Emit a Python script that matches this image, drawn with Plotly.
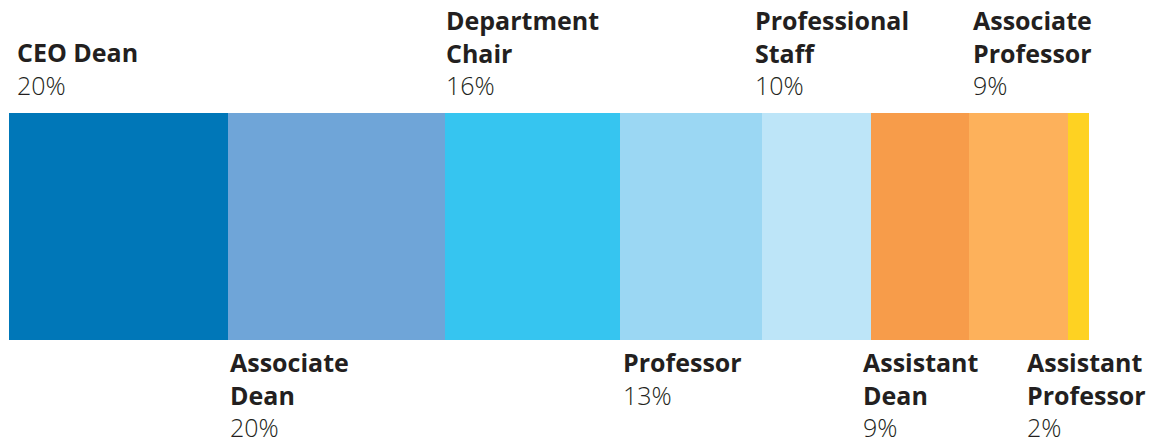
import plotly.graph_objects as go

categories = ["CEO Dean", "Associate Dean", "Department Chair", "Professor",
              "Professional Staff", "Assistant Dean", "Associate Professor", "Assistant Professor"]
label_names = ["CEO Dean", "Associate<br>Dean", "Department<br>Chair", "Professor",
               "Professional<br>Staff", "Assistant<br>Dean", "Associate<br>Professor", "Assistant<br>Professor"]
values = [20.3, 20.1, 16.2, 13.1, 10.1, 9.1, 9.2, 1.9]
pct_labels = ["20%", "20%", "16%", "13%", "10%", "9%", "9%", "2%"]
colors = ["#0077B8", "#6FA5D8", "#36C5F0", "#9BD7F3", "#BDE5F8", "#F79C4A", "#FDB15B", "#FED222"]

# label placement (layout only)
above = [True, False, True, False, True, False, True, False]
xshift = [8, 2, 1, 3, -7, -8, 4, -41]

fig = go.Figure()
for cat, v, c in zip(categories, values, colors):
    fig.add_trace(go.Bar(x=[v], y=[0], orientation="h", name=cat,
                         marker=dict(color=c, line=dict(width=0)), width=1,
                         hoverinfo="name+x"))

total = sum(values)
starts = []
acc = 0
for v in values:
    starts.append(acc)
    acc += v

TEXT = "#231F20"
FONT = "Open Sans"
for i in range(len(categories)):
    txt = f"<b>{label_names[i]}</b><br>{pct_labels[i]}"
    if above[i]:
        fig.add_annotation(x=starts[i], y=0.5, xref="x", yref="y", text=txt,
                           showarrow=False, xanchor="left", yanchor="bottom",
                           align="left", xshift=xshift[i] - 2, yshift=9,
                           font=dict(family=FONT, size=25, color=TEXT, weight=300))
    else:
        fig.add_annotation(x=starts[i], y=-0.5, xref="x", yref="y", text=txt,
                           showarrow=False, xanchor="left", yanchor="top",
                           align="left", xshift=xshift[i] - 2, yshift=-3,
                           font=dict(family=FONT, size=25, color=TEXT, weight=300))

fig.update_layout(
    barmode="stack",
    width=1172, height=448,
    margin=dict(l=9, r=83, t=0, b=0),
    paper_bgcolor="white", plot_bgcolor="white",
    showlegend=False,
    bargap=0,
    xaxis=dict(range=[0, total], visible=False, fixedrange=True),
    yaxis=dict(range=[-0.9758, 0.9978], visible=False, fixedrange=True),
)

fig.write_html("out.html", config={"displayModeBar": False},
               post_script="document.body.style.margin='0';")
